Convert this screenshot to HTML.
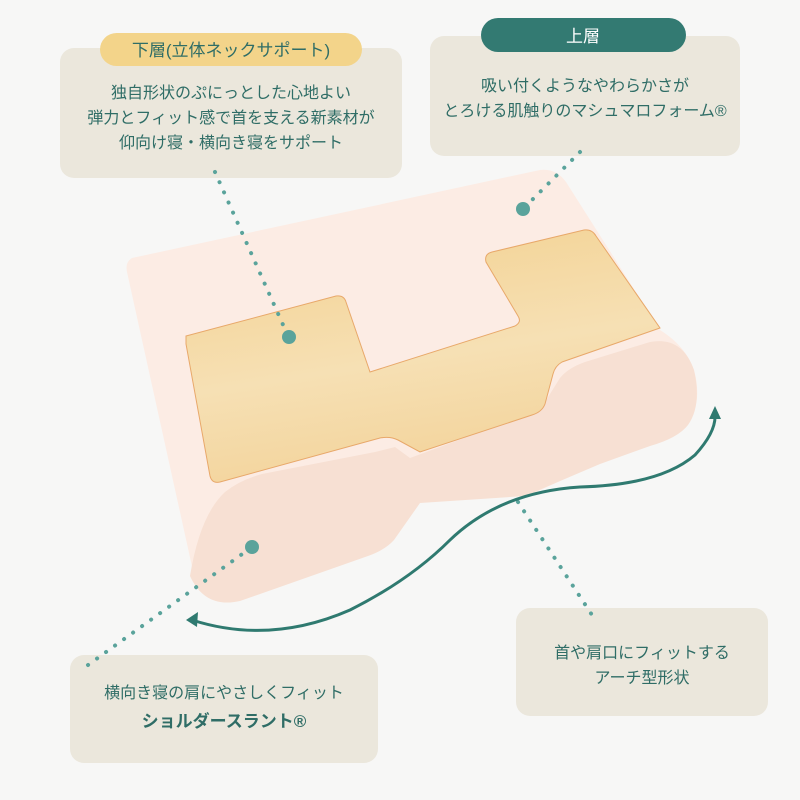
<!DOCTYPE html>
<html><head><meta charset="utf-8"><style>
html,body{margin:0;padding:0;background:#f7f7f6;}
svg{display:block;}
text{font-family:"Liberation Sans","Noto Sans CJK JP",sans-serif;fill:#2f6d66;}
</style></head><body>
<svg width="800" height="800" viewBox="0 0 800 800" xmlns="http://www.w3.org/2000/svg">
<defs>
<linearGradient id="yg" x1="0" y1="0" x2="0.3" y2="1">
<stop offset="0" stop-color="#f3d08e"/><stop offset="0.6" stop-color="#f6e0b4"/><stop offset="1" stop-color="#f3d49c"/>
</linearGradient>
</defs>
<rect width="800" height="800" fill="#f7f7f6"/>
<!-- boxes -->
<rect x="60" y="48" width="342" height="130" rx="14" fill="#ebe7dc"/>
<rect x="100" y="33" width="262" height="33" rx="16.5" fill="#f3d48a"/>
<text x="231" y="56" font-size="17" text-anchor="middle" style="fill:#2f6d66">下層(立体ネックサポート)</text>
<text x="231" y="98" font-size="16" text-anchor="middle">独自形状のぷにっとした心地よい</text>
<text x="231" y="123" font-size="16" text-anchor="middle">弾力とフィット感で首を支える新素材が</text>
<text x="231" y="148" font-size="16" text-anchor="middle">仰向け寝・横向き寝をサポート</text>

<rect x="430" y="36" width="310" height="120" rx="14" fill="#ebe7dc"/>
<rect x="481" y="18" width="205" height="34" rx="17" fill="#337a72"/>
<text x="583" y="42" font-size="17" text-anchor="middle" style="fill:#fff">上層</text>
<text x="585" y="91" font-size="16" text-anchor="middle">吸い付くようなやわらかさが</text>
<text x="585" y="116" font-size="16" text-anchor="middle">とろける肌触りのマシュマロフォーム®</text>

<rect x="516" y="608" width="252" height="108" rx="14" fill="#ebe7dc"/>
<text x="642" y="658" font-size="16" text-anchor="middle">首や肩口にフィットする</text>
<text x="642" y="683" font-size="16" text-anchor="middle">アーチ型形状</text>

<rect x="70" y="655" width="308" height="108" rx="14" fill="#ebe7dc"/>
<text x="224" y="698" font-size="16" text-anchor="middle">横向き寝の肩にやさしくフィット</text>
<text x="224" y="727" font-size="17" text-anchor="middle" font-weight="bold">ショルダースラント®</text>

<!-- pillow body -->
<path d="M132,258 L540,170 Q556,168 566,182 L660,330 Q700,355 697,398 Q694,425 665,438 L600,462 L530,495 L420,502 L395,538 Q388,548 370,555 L240,600 Q205,608 195,580 L127,272 Q125,262 132,258 Z" fill="#fcece4"/>
<!-- front rolls -->
<path d="M190,576 Q200,515 225,492 Q240,480 262,474 L375,452 L395,447 L410,458 L540,410 L560,378 Q568,368 585,362 L650,342 Q682,336 694,370 Q702,405 688,425 Q678,438 650,446 L600,464 L525,496 L420,503 L394,540 Q385,550 368,556 L240,601 Q205,609 190,576 Z" fill="#f7e0d3"/>
<!-- yellow insert -->
<path d="M186,336 L336,296 Q344,295 346,302 L370,372 L515,326 Q522,322 518,316 L486,262 Q484,254 492,252 L584,230 Q592,229 596,236 L660,328 L562,362 Q555,366 553,374 L545,404 Q542,412 532,415 L420,452 L398,440 Q390,436 380,438 L220,482 Q212,484 210,476 L186,344 Z" fill="url(#yg)" stroke="#e8a86a" stroke-width="1"/>
<!-- dotted leaders -->
<g stroke="#5aa39b" stroke-width="4" stroke-linecap="round" stroke-dasharray="0.1 11" fill="none">
<line x1="215" y1="172" x2="288" y2="336"/>
<line x1="580" y1="152" x2="523" y2="209"/>
<line x1="518" y1="502" x2="592" y2="615"/>
<line x1="88" y1="665" x2="252" y2="547"/>
</g>
<g fill="#5aa39b">
<circle cx="289" cy="337" r="7"/>
<circle cx="523" cy="209" r="7"/>
<circle cx="252" cy="547" r="7"/>
</g>
<!-- arch arrow -->
<path d="M192,620 Q270,645 350,610 Q410,580 450,540 Q500,492 580,487 Q660,485 695,455 Q716,432 715,415" stroke="#2f7a70" stroke-width="3" fill="none"/>
<path d="M186,620 L198,612 L197,627 Z" fill="#2f7a70"/>
<path d="M715,406 L709,419 L721,419 Z" fill="#2f7a70"/>
</svg>
</body></html>
